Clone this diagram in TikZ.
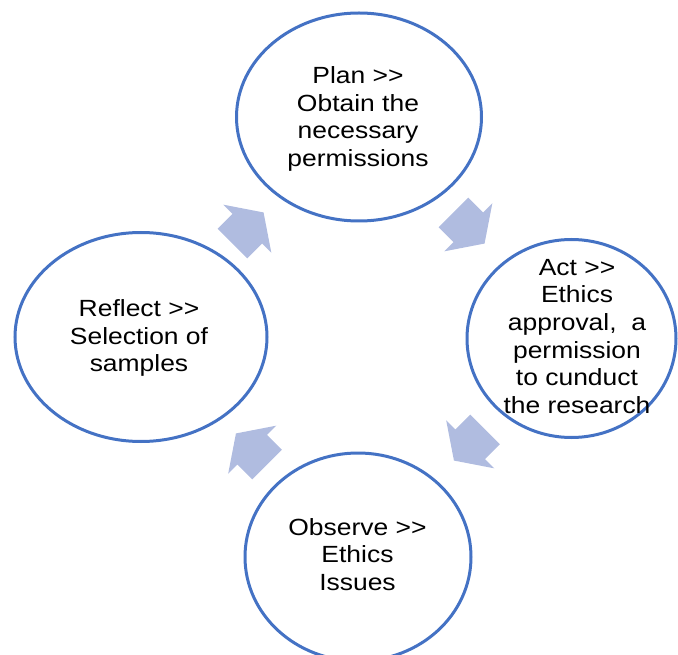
\documentclass[tikz,border=0pt]{standalone}
\usepackage{fontspec}
\setmainfont{Liberation Sans}
\usetikzlibrary{shapes.geometric}
\definecolor{ringblue}{HTML}{4472C4}
\definecolor{arrowfill}{HTML}{B0BCE0}
\tikzset{
  ring/.style={ellipse, draw=ringblue, line width=3pt, inner sep=0pt, fill=none},
  ringtext/.style={align=center, font=\fontsize{23.4}{27.7}\selectfont, inner sep=0pt, xscale=1.13, transform shape},
}
\newcommand{\dblgt}{{>}{>}}
\newcommand{\blockarrow}[3]{%
  \begin{scope}[shift={(#1,#2)}, rotate=#3]
    \fill[arrowfill] (-22,-21) -- (-1,-21) -- (-1,-34) -- (22,0) -- (-1,34) -- (-1,21) -- (-22,21) -- cycle;
  \end{scope}}
\begin{document}
\begin{tikzpicture}[x=1pt, y=-1pt]
\useasboundingbox (0,0) rectangle (678,655);
% rings
\node[ring, minimum width=245pt, minimum height=208pt] (plan) at (359,117) {};
\node[ring, minimum width=209pt, minimum height=198pt] (act) at (571.5,338.5) {};
\node[ring, minimum width=252pt, minimum height=209pt] (reflect) at (141,337) {};
\node[ring, minimum width=226pt, minimum height=208pt] (observe) at (358,557) {};
% texts
\node[ringtext] (plant) at (358,119) {Plan \dblgt\\Obtain the\\necessary\\permissions};
\node[ringtext] (actt) at (577,336.5) {Act \dblgt\\Ethics\\approval,~ a\\permission\\to cunduct\\the research};
\node[ringtext] (reflectt) at (139,338) {Reflect \dblgt\\Selection of\\samples};
\node[ringtext] (observet) at (357.5,554.5) {Observe \dblgt\\Ethics\\Issues};
% arrows
\blockarrow{248}{228}{45}
\blockarrow{469}{228}{-45}
\blockarrow{469.5}{445}{-135}
\blockarrow{251.5}{449}{135}
\end{tikzpicture}
\end{document}
